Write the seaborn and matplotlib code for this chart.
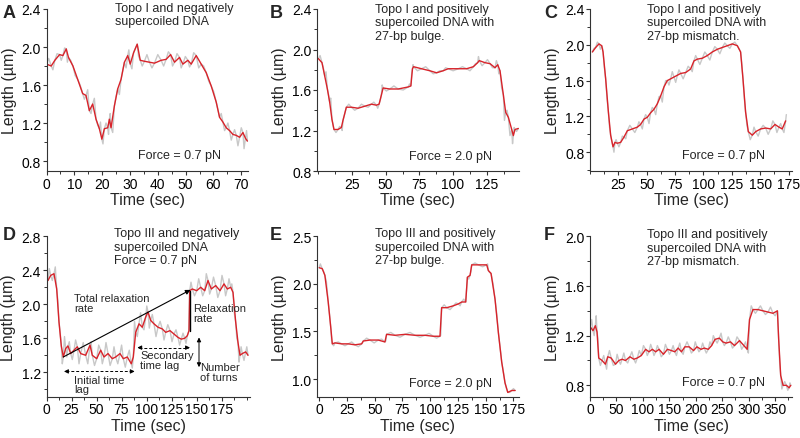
import numpy as np
import matplotlib
matplotlib.use("Agg")
import matplotlib.pyplot as plt
from matplotlib.ticker import FixedLocator, MultipleLocator, FormatStrFormatter
import seaborn as sns

# ---- data (time in sec, length in um) ----
# red = smoothed trace, grey = raw excursions around it
a_t = [0, 1.7, 3, 4.7, 5.9, 7.1, 7.9, 9.5, 11.2, 13.0, 14.2, 15.4, 16.6, 17.8, 19.0, 19.9, 20.8, 22.0, 22.6, 23.2,
       24.4, 25.6, 26.8, 28.0, 29.2, 30.1, 31.3, 32.6, 33.7, 35.2, 37.0, 38.8, 41.2, 43.0, 44.6, 46.0, 47.8, 49.0,
       50.8, 52.0, 53.8, 55.6, 57.4, 59.2, 61.0, 62.2, 63.4, 64.6, 65.8, 67.0, 68.2, 69.4, 70.6, 71.5, 72.2]
a_len = [1.82, 1.80, 1.86, 1.92, 1.91, 1.98, 1.89, 1.80, 1.66, 1.51, 1.49, 1.33, 1.40, 1.24, 1.14, 1.03, 1.14, 1.15,
         1.24, 1.15, 1.38, 1.56, 1.66, 1.84, 1.91, 1.82, 1.94, 2.03, 1.86, 1.85, 1.84, 1.83, 1.86, 1.87, 1.92, 1.84,
         1.89, 1.82, 1.86, 1.82, 1.91, 1.82, 1.73, 1.59, 1.42, 1.26, 1.21, 1.15, 1.12, 1.08, 1.07, 1.05, 1.10, 1.04, 1.01]
a_raw_t = [0.8, 2.3, 3.8, 5.3, 6.5, 7.5, 8.7, 10.3, 12.1, 13.6, 14.8, 16.0, 17.2, 18.4, 19.4, 20.3, 21.4, 22.3, 22.9,
           23.8, 25.0, 26.2, 27.4, 28.6, 29.6, 30.7, 32.0, 33.1, 34.4, 36.1, 37.9, 40.0, 42.1, 43.8, 45.3, 46.9, 48.4,
           49.9, 51.4, 52.9, 54.7, 56.5, 58.3, 60.1, 61.6, 62.8, 64.0, 65.2, 66.4, 67.6, 68.8, 70.0, 71.0, 71.9]
a_raw = [1.88, 1.76, 1.93, 1.86, 1.99, 1.84, 1.86, 1.70, 1.60, 1.45, 1.55, 1.30, 1.46, 1.18, 1.21, 0.98, 1.20, 1.08,
         1.30, 1.10, 1.48, 1.50, 1.75, 1.78, 1.97, 1.77, 1.99, 1.90, 1.80, 1.92, 1.78, 1.92, 1.80, 1.95, 1.80, 1.93,
         1.78, 1.90, 1.79, 1.94, 1.78, 1.80, 1.64, 1.53, 1.34, 1.30, 1.12, 1.20, 1.02, 1.13, 0.96, 1.15, 0.93, 1.12]

b_t = [0, 2.7, 4.7, 6.7, 8.4, 10.1, 11.6, 14.6, 17.1, 18.3, 20.8, 24.5, 29.5, 34.5, 39.4, 43.1, 45.1, 46.8, 48.1,
       53.0, 59.3, 66.7, 68.7, 69.9, 70.7, 76.6, 82.8, 87.8, 92.7, 96.4, 103.9, 110.1, 115.1, 118.3, 119.5, 123.7,
       127.5, 131.2, 133.2, 134.9, 137.4, 139.1, 141.1, 143.6, 144.8, 146.0, 148.5]
b_len = [1.91, 1.87, 1.74, 1.61, 1.48, 1.31, 1.21, 1.21, 1.23, 1.30, 1.43, 1.43, 1.42, 1.44, 1.46, 1.45, 1.46, 1.55,
         1.62, 1.61, 1.61, 1.63, 1.64, 1.81, 1.83, 1.81, 1.79, 1.77, 1.79, 1.81, 1.81, 1.81, 1.83, 1.87, 1.89, 1.87,
         1.86, 1.82, 1.85, 1.79, 1.55, 1.38, 1.33, 1.21, 1.15, 1.21, 1.22]
b_raw_t = [1.3, 3.7, 5.7, 7.5, 9.2, 10.9, 13.1, 15.8, 17.7, 19.5, 22.6, 27.0, 32.0, 37.0, 41.2, 44.1, 46.0, 47.4,
           50.5, 56.1, 63.0, 67.7, 69.3, 70.3, 73.6, 79.7, 85.3, 90.2, 94.5, 100.1, 107.0, 112.6, 116.7, 118.9, 121.6,
           125.6, 129.3, 132.2, 134.0, 136.1, 138.2, 140.1, 142.3, 144.2, 145.4, 147.2]
b_raw = [1.94, 1.82, 1.78, 1.56, 1.52, 1.26, 1.18, 1.24, 1.20, 1.36, 1.46, 1.40, 1.46, 1.43, 1.48, 1.42, 1.50, 1.65,
         1.59, 1.64, 1.60, 1.66, 1.76, 1.85, 1.79, 1.83, 1.76, 1.79, 1.82, 1.79, 1.83, 1.79, 1.86, 1.93, 1.84, 1.90,
         1.82, 1.89, 1.76, 1.62, 1.30, 1.40, 1.15, 1.07, 1.23, 1.19]

c_t = [2.1, 5.0, 7.9, 10.3, 11.5, 13.8, 16.2, 18.2, 20.3, 22.0, 24.1, 27.0, 30.0, 32.9, 37.3, 41.7, 44.6, 47.6, 50.5,
       53.4, 56.4, 59.3, 62.3, 65.2, 68.1, 71.1, 74.0, 77.0, 79.9, 84.3, 88.7, 91.6, 94.6, 99.0, 103.4, 107.8, 112.2,
       116.6, 121.0, 125.4, 129.8, 132.7, 134.8, 137.1, 139.5, 143.0, 146.0, 150.4, 154.8, 159.2, 163.0, 166.5, 169.4, 172.4]
c_len = [1.92, 1.97, 2.01, 1.99, 1.92, 1.62, 1.25, 0.99, 0.86, 0.91, 0.90, 0.91, 0.97, 1.04, 1.06, 1.08, 1.11, 1.17,
         1.19, 1.24, 1.28, 1.34, 1.43, 1.53, 1.60, 1.62, 1.64, 1.66, 1.68, 1.69, 1.73, 1.82, 1.84, 1.85, 1.88, 1.92,
         1.95, 1.97, 1.99, 2.01, 1.99, 1.92, 1.62, 1.25, 1.03, 0.99, 1.03, 1.06, 1.07, 1.06, 1.11, 1.08, 1.06, 1.15]
c_raw_t = [3.5, 6.5, 9.1, 10.9, 12.6, 15.0, 17.2, 19.2, 21.1, 23.0, 25.5, 28.5, 31.5, 35.1, 39.5, 43.1, 46.1, 49.0,
           52.0, 54.9, 57.9, 60.8, 63.7, 66.7, 69.6, 72.5, 75.5, 78.4, 82.1, 86.5, 90.1, 93.1, 96.8, 101.2, 105.6,
           110.0, 114.4, 118.8, 123.2, 127.6, 131.2, 133.7, 136.0, 138.3, 141.2, 144.5, 148.2, 152.6, 157.0, 161.1,
           164.7, 168.0, 170.9, 173.0]
c_raw = [1.96, 2.03, 1.95, 1.97, 1.75, 1.40, 1.08, 0.92, 0.80, 0.94, 0.86, 0.98, 0.95, 1.10, 1.02, 1.14, 1.06, 1.22,
         1.12, 1.30, 1.22, 1.42, 1.36, 1.60, 1.55, 1.70, 1.58, 1.72, 1.62, 1.76, 1.70, 1.88, 1.78, 1.92, 1.83, 1.98,
         1.90, 2.02, 1.96, 2.03, 1.96, 1.80, 1.40, 1.10, 0.94, 1.08, 0.98, 1.10, 1.00, 1.15, 1.02, 1.12, 1.02, 1.22]

d_t = [1.5, 4.2, 7.5, 10.2, 12.5, 14.8, 16.8, 19.2, 21.5, 24.2, 27.5, 30.8, 34.2, 39.2, 43.5, 45.8, 50.2, 54.2, 57.5,
       61.5, 65.8, 69.2, 73.5, 76.8, 80.8, 84.8, 86.8, 89.2, 92.5, 95.8, 99.2, 101.5, 104.2, 107.5, 111.5, 115.8,
       119.2, 123.5, 127.5, 131.5, 134.8, 138.2, 140.8, 142.5, 143.2, 145.8, 150.2, 154.2, 158.2, 161.5, 164.8,
       169.2, 173.5, 177.5, 180.8, 184.2, 186.5, 189.2, 191.5, 193.5, 195.8, 199.2, 201.5]
d_len = [2.28, 2.34, 2.36, 2.18, 1.79, 1.51, 1.38, 1.48, 1.51, 1.42, 1.46, 1.50, 1.42, 1.40, 1.52, 1.40, 1.36, 1.46,
         1.38, 1.42, 1.36, 1.38, 1.42, 1.36, 1.38, 1.30, 1.38, 1.67, 1.77, 1.73, 1.85, 1.91, 1.81, 1.77, 1.73, 1.71,
         1.67, 1.69, 1.65, 1.61, 1.59, 1.60, 1.63, 1.69, 2.16, 2.18, 2.16, 2.20, 2.16, 2.28, 2.18, 2.22, 2.16, 2.24,
         2.18, 2.20, 2.14, 1.79, 1.55, 1.40, 1.42, 1.44, 1.40]
d_raw_t = [2.8, 5.8, 8.8, 11.3, 13.6, 15.8, 18.0, 20.3, 22.8, 25.8, 29.1, 32.5, 36.7, 41.3, 44.6, 48.0, 52.2, 55.8,
           59.5, 63.6, 67.5, 71.3, 75.1, 78.8, 82.8, 85.8, 88.0, 90.8, 94.1, 97.5, 100.3, 102.8, 105.8, 109.5, 113.6,
           117.5, 121.3, 125.5, 129.5, 133.1, 136.5, 139.5, 144.5, 148.0, 152.2, 156.2, 159.8, 163.1, 167.0, 171.3,
           175.5, 179.1, 182.5, 185.3, 187.8, 190.3, 192.5, 194.6, 197.5, 200.3]
d_raw = [2.42, 2.28, 2.44, 2.05, 1.68, 1.30, 1.62, 1.38, 1.56, 1.35, 1.58, 1.30, 1.55, 1.30, 1.56, 1.28, 1.52, 1.30,
         1.55, 1.28, 1.50, 1.30, 1.52, 1.26, 1.46, 1.25, 1.80, 1.62, 1.90, 1.70, 1.98, 1.72, 1.88, 1.62, 1.80, 1.58,
         1.76, 1.56, 1.70, 1.52, 1.66, 1.54, 2.26, 2.10, 2.30, 2.10, 2.36, 2.12, 2.32, 2.08, 2.34, 2.10, 2.30, 2.24,
         1.90, 1.60, 1.32, 1.50, 1.34, 1.50]

e_t = [0.0, 2.7, 5.1, 8.1, 10.5, 11.8, 14.2, 20.2, 26.2, 32.2, 38.2, 39.7, 45.7, 53.2, 59.2, 60.7, 68.3, 77.3, 86.3,
       95.3, 102.8, 108.8, 110.3, 114.9, 120.9, 125.4, 128.4, 132.0, 133.5, 135.9, 137.4, 143.4, 150.9, 152.4, 154.8,
       158.4, 161.4, 164.4, 167.4, 169.9, 173.5, 176.5]
e_len = [2.17, 2.16, 2.09, 1.81, 1.53, 1.37, 1.38, 1.37, 1.37, 1.36, 1.37, 1.40, 1.41, 1.41, 1.39, 1.47, 1.46, 1.47,
         1.46, 1.46, 1.45, 1.45, 1.75, 1.75, 1.77, 1.79, 1.81, 1.81, 2.07, 2.09, 2.20, 2.20, 2.20, 2.14, 2.11, 1.84,
         1.49, 1.18, 0.96, 0.86, 0.88, 0.88]
e_raw_t = [1.0, 4.0, 6.5, 9.3, 11.2, 13.0, 17.2, 23.2, 29.2, 35.2, 39.0, 42.7, 49.5, 56.2, 60.0, 64.5, 72.8, 81.8,
           90.8, 99.0, 105.8, 109.5, 112.6, 117.9, 123.2, 126.9, 130.2, 132.8, 134.7, 136.7, 140.4, 147.2, 151.7,
           153.6, 156.6, 160.0, 163.0, 165.9, 168.7, 171.7, 175.0]
e_raw = [2.21, 2.13, 2.02, 1.68, 1.40, 1.35, 1.39, 1.35, 1.39, 1.34, 1.38, 1.43, 1.38, 1.42, 1.40, 1.49, 1.44, 1.49,
         1.44, 1.48, 1.43, 1.46, 1.78, 1.73, 1.80, 1.77, 1.84, 1.95, 2.05, 2.13, 2.22, 2.18, 2.21, 2.12, 2.00, 1.68,
         1.33, 1.08, 0.90, 0.86, 0.90]

f_t = [0.6, 5.7, 10.1, 13.3, 16.5, 22.8, 29.2, 33.6, 40.0, 48.2, 54.5, 60.8, 67.2, 75.4, 83.0, 89.4, 97.0, 105.2,
       111.5, 117.9, 124.2, 130.6, 138.8, 146.4, 154.0, 160.4, 166.7, 173.0, 179.4, 187.6, 195.8, 202.2, 209.8, 216.1,
       223.7, 230.0, 236.4, 244.6, 251.0, 257.3, 265.6, 273.2, 282.7, 291.0, 297.3, 301.7, 308.1, 317.6, 327.1, 336.6,
       346.1, 354.4, 356.8, 360.6, 365.1, 371.4, 376.5, 379.7]
f_len = [1.27, 1.24, 1.28, 1.23, 1.02, 1.00, 0.97, 1.03, 1.02, 0.97, 1.00, 1.01, 1.00, 1.03, 1.01, 1.02, 1.04, 1.09,
         1.07, 1.09, 1.07, 1.09, 1.05, 1.09, 1.08, 1.07, 1.10, 1.07, 1.11, 1.11, 1.08, 1.11, 1.09, 1.10, 1.09, 1.12,
         1.17, 1.18, 1.15, 1.14, 1.15, 1.12, 1.16, 1.12, 1.09, 1.33, 1.41, 1.41, 1.40, 1.39, 1.38, 1.40, 1.17, 0.88,
         0.80, 0.80, 0.78, 0.80]
f_raw_t = [3.2, 7.9, 11.7, 14.9, 19.6, 26.0, 31.4, 36.8, 44.1, 51.3, 57.6, 64.0, 71.3, 79.2, 86.2, 93.2, 101.1,
           108.3, 114.7, 121.0, 127.4, 134.7, 142.6, 150.2, 157.2, 163.5, 169.8, 176.2, 183.5, 191.7, 199.0, 206.0,
           213.0, 219.9, 226.8, 233.2, 240.5, 247.8, 254.1, 261.4, 269.4, 278.0, 286.8, 294.1, 299.5, 304.9, 312.8,
           322.3, 331.8, 341.3, 350.2, 355.6, 358.7, 362.8, 368.2, 374.0, 378.1]
f_raw = [1.33, 1.20, 1.36, 1.18, 0.96, 1.04, 0.93, 1.08, 0.96, 1.05, 0.97, 1.06, 0.98, 1.07, 0.98, 1.08, 1.12, 1.04,
         1.13, 1.04, 1.12, 1.03, 1.13, 1.05, 1.12, 1.04, 1.14, 1.05, 1.15, 1.06, 1.15, 1.07, 1.14, 1.06, 1.15, 1.20,
         1.14, 1.22, 1.12, 1.19, 1.10, 1.19, 1.09, 1.15, 1.06, 1.44, 1.38, 1.44, 1.37, 1.43, 1.36, 1.30, 0.98, 0.77,
         0.83, 0.76, 0.82]

titles = ["Topo I and negatively\nsupercoiled DNA",
          "Topo I and positively\nsupercoiled DNA with\n27-bp bulge.",
          "Topo I and positively\nsupercoiled DNA with\n27-bp mismatch.",
          "Topo III and negatively\nsupercoiled DNA\nForce = 0.7 pN",
          "Topo III and positively\nsupercoiled DNA with\n27-bp bulge.",
          "Topo III and positively\nsupercoiled DNA with\n27-bp mismatch."]
forces = ["Force = 0.7 pN", "Force = 2.0 pN", "Force = 0.7 pN", None, "Force = 2.0 pN", "Force = 0.7 pN"]
letters = ["A", "B", "C", "D", "E", "F"]

RED = "#d8232a"
GREY = "#c8c8c8"

sns.set_style("ticks")
plt.rcParams["font.family"] = ["Liberation Sans", "DejaVu Sans"]
plt.rcParams["axes.linewidth"] = 0.8
plt.rcParams["axes.edgecolor"] = "#333333"

fig = plt.figure(figsize=(8, 4.39), dpi=100)

W, H = 800, 439
# axes boxes in pixels: left, top, right, bottom
boxes = [(46.5, 10, 248.5, 172), (317, 10, 519, 172), (590, 10, 792, 172),
         (46.5, 237.3, 250, 397.5), (317, 237.3, 519, 397.5), (590, 237.3, 792, 397.5)]
axes = [fig.add_axes([l / W, 1 - b / H, (r - l) / W, (b - t) / H]) for l, t, r, b in boxes]

panels = [(a_t, a_len, a_raw_t, a_raw), (b_t, b_len, b_raw_t, b_raw), (c_t, c_len, c_raw_t, c_raw),
          (d_t, d_len, d_raw_t, d_raw), (e_t, e_len, e_raw_t, e_raw), (f_t, f_len, f_raw_t, f_raw)]
xlims = [(0, 72.6), (-1, 149), (0, 178), (0, 203.5), (-2, 180), (0, 382)]
ylims = [(0.695, 2.4), (0.8, 2.4), (0.59, 2.4), (0.915, 2.8), (0.817, 2.5), (0.71, 2.0)]
xmajor = [np.arange(0, 71, 10), np.arange(25, 126, 25), np.arange(25, 176, 25),
          np.arange(0, 176, 25), np.arange(0, 176, 25), np.arange(0, 351, 50)]
xminor = [5, 12.5, 12.5, 12.5, 12.5, 25]
ymajor = [np.arange(0.8, 2.41, 0.4), np.arange(0.8, 2.41, 0.4), np.arange(0.8, 2.41, 0.4),
          np.arange(1.2, 2.81, 0.4), np.arange(1.0, 2.51, 0.5), np.arange(0.8, 2.01, 0.4)]
yminor = [0.2, 0.2, 0.2, 0.2, 0.25, 0.2]
title_y = [1.043, 1.037, 1.037, 1.056, 1.056, 1.05]
title_x = [0.337, 0.287, 0.28, 0.33, 0.287, 0.284]
force_y = [0.10, 0.094, 0.10, None, 0.087, 0.09]

for i, ax in enumerate(axes):
    t, y, rt, ry = panels[i]
    raw_t = np.concatenate([t, rt])
    raw_y = np.concatenate([y, ry])
    order = np.argsort(raw_t)
    sns.lineplot(x=raw_t[order], y=raw_y[order], ax=ax, color=GREY, lw=1.0, sort=False, estimator=None)
    sns.lineplot(x=t, y=y, ax=ax, color=RED, lw=1.0, sort=False, estimator=None)

    ax.set_xlim(*xlims[i])
    ax.set_ylim(*ylims[i])
    ax.xaxis.set_major_locator(FixedLocator(xmajor[i]))
    ax.xaxis.set_minor_locator(MultipleLocator(xminor[i]))
    ax.yaxis.set_major_locator(FixedLocator(ymajor[i]))
    ax.yaxis.set_minor_locator(MultipleLocator(yminor[i]))
    ax.yaxis.set_major_formatter(FormatStrFormatter("%.1f"))
    ax.tick_params(which="major", length=3, width=0.8, labelsize=10, pad=1, colors="#333333", labelcolor="black")
    ax.tick_params(which="minor", length=2, width=0.7, colors="#333333")
    sns.despine(ax=ax)

    ax.set_xlabel("Time (sec)", fontsize=11.5)
    ax.set_ylabel("Length (µm)", fontsize=11.5)
    ax.yaxis.set_label_coords(-0.148, 0.5)
    ax.xaxis.set_label_coords(0.5, -0.132 if i < 3 else -0.137)

    ax.text(title_x[i], title_y[i], titles[i], transform=ax.transAxes, ha="left", va="top", fontsize=9,
            linespacing=1.15)
    if forces[i]:
        ax.text(0.455, force_y[i], forces[i], transform=ax.transAxes, ha="left", va="center", fontsize=9)

letter_pos = [(3, 13), (270, 13), (544, 13), (3, 236), (270, 236), (544, 236)]
for (px, py), lab in zip(letter_pos, letters):
    fig.text(px / W, 1 - py / H, lab, fontsize=13, fontweight="bold", ha="left", va="center")

# ---- annotations on panel D ----
axd = axes[3]
ann = dict(fontsize=8, ha="left", va="top", linespacing=0.95)
axd.annotate("", xy=(144, 2.17), xytext=(16.8, 1.38),
             arrowprops=dict(arrowstyle="-|>", color="k", lw=0.8, mutation_scale=7, shrinkA=0, shrinkB=0))
axd.plot([143.2, 143.2], [1.69, 2.16], color="k", lw=1.0)
axd.text(28, 2.13, "Total relaxation\nrate", **ann)
axd.text(147, 2.01, "Relaxation\nrate", **ann)
axd.text(28, 1.17, "Initial time\nlag", **ann)
axd.text(94, 1.46, "Secondary\ntime lag", **ann)
axd.text(154, 1.32, "Number\nof turns", **ann)


def dashed_span(ax, x0, x1, y):
    ax.plot([x0 + 2, x1 - 2], [y, y], color="k", lw=0.7, ls=(0, (3, 2)))
    for a, b in ((x0 + 4, x0), (x1 - 4, x1)):
        ax.annotate("", xy=(b, y), xytext=(a, y),
                    arrowprops=dict(arrowstyle="-|>", color="k", lw=0.7, mutation_scale=6, shrinkA=0, shrinkB=0))


dashed_span(axd, 17.5, 88.2, 1.21)
dashed_span(axd, 90.8, 143.5, 1.49)
axd.annotate("", xy=(152.5, 1.26), xytext=(152.5, 1.61),
             arrowprops=dict(arrowstyle="<|-|>", color="k", lw=0.7, mutation_scale=6, shrinkA=0, shrinkB=0))

fig.savefig("out.png", dpi=100)
